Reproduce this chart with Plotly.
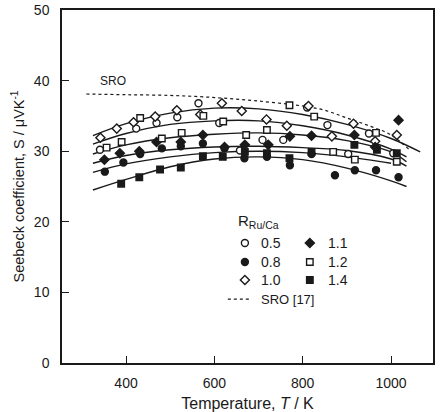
import plotly.graph_objects as go

# ---------------- data ----------------
T_05 = [341, 423, 469, 516, 564, 611, 658, 709, 756, 810, 856, 903, 950, 1005]
S_05 = [30.2, 33.2, 34.0, 34.8, 36.8, 34.0, 30.1, 31.6, 31.6, 36.2, 33.7, 29.6, 32.5, 29.7]

T_08 = [352, 394, 432, 481, 524, 574, 623, 668, 719, 771, 820, 873, 918, 966, 1017]
S_08 = [27.1, 28.4, 29.6, 30.4, 30.7, 31.1, 30.4, 29.0, 29.2, 28.0, 29.6, 26.6, 27.3, 27.3, 26.3]

T_10 = [342, 379, 417, 466, 515, 568, 617, 662, 718, 764, 813, 866, 915, 964, 1013]
S_10 = [31.9, 33.2, 34.1, 34.9, 35.8, 35.2, 36.8, 35.7, 34.5, 33.6, 36.4, 32.1, 33.9, 31.4, 32.3]

T_11 = [351, 386, 430, 469, 524, 574, 623, 669, 722, 771, 820, 917, 964, 1017]
S_11 = [28.8, 29.7, 30.0, 31.3, 31.3, 32.3, 30.6, 30.9, 30.9, 32.1, 32.2, 32.3, 30.6, 34.4]

T_12 = [356, 390, 432, 481, 526, 575, 620, 672, 719, 770, 826, 869, 918, 966, 1013]
S_12 = [30.5, 31.3, 34.7, 31.8, 32.6, 35.0, 34.2, 32.3, 33.0, 36.5, 34.9, 29.9, 28.8, 32.6, 28.5]

T_14 = [389, 430, 477, 524, 574, 619, 669, 719, 770, 820, 917, 968, 1013]
S_14 = [25.4, 26.3, 27.4, 27.7, 29.3, 29.2, 29.9, 29.7, 29.0, 29.9, 30.9, 30.2, 29.7]

# fitted curves
FIT1_T = [325, 400, 500, 600, 700, 800, 900, 1000, 1066]
FIT1_S = [32.2, 33.9, 35.4, 36.1, 36.0, 35.2, 33.8, 31.8, 29.9]
FIT2_T = [325, 400, 500, 600, 700, 800, 900, 1000, 1035]
FIT2_S = [31.0, 32.5, 33.8, 34.3, 34.3, 33.6, 32.3, 30.3, 29.2]
FIT3_T = [325, 400, 500, 600, 700, 800, 900, 1000, 1035]
FIT3_S = [29.6, 30.9, 31.9, 32.4, 32.6, 32.3, 31.5, 29.9, 28.5]
FIT4_T = [325, 400, 500, 600, 700, 800, 900, 1000, 1035]
FIT4_S = [28.3, 29.4, 30.2, 30.6, 30.7, 30.5, 30.1, 28.9, 27.9]
FIT5_T = [325, 400, 500, 600, 700, 800, 900, 1000]
FIT5_S = [27.0, 28.2, 29.2, 29.8, 30.0, 29.8, 29.2, 28.3]
FIT6_T = [325, 400, 500, 600, 700, 800, 900, 1000, 1035]
FIT6_S = [24.5, 26.0, 27.8, 28.9, 29.2, 28.8, 27.6, 25.8, 25.0]

SRO_T = [310, 400, 500, 600, 700, 800, 850, 900, 950, 1000, 1045]
SRO_S = [38.1, 38.0, 37.9, 37.6, 37.1, 36.4, 35.8, 34.7, 33.6, 32.3, 30.0]

LEGEND_LABELS = ["0.5", "0.8", "1.0", "1.1", "1.2", "1.4"]

# ---------------- figure ----------------
INK = "#1a1a1a"
FONT = "Arial, Liberation Sans, sans-serif"

fig = go.Figure()

for tx, sy in [(FIT1_T, FIT1_S), (FIT2_T, FIT2_S), (FIT3_T, FIT3_S),
               (FIT4_T, FIT4_S), (FIT5_T, FIT5_S), (FIT6_T, FIT6_S)]:
    fig.add_trace(go.Scatter(x=tx, y=sy, mode="lines", showlegend=False, hoverinfo="skip",
                             line=dict(color=INK, width=1.4, shape="spline", smoothing=1.0)))

fig.add_trace(go.Scatter(x=SRO_T, y=SRO_S, mode="lines", showlegend=False,
                         line=dict(color=INK, width=1.2, dash="3px,3px", shape="spline")))

series = [
    (T_05, S_05, "circle", "white", 7),
    (T_08, S_08, "circle", INK, 7),
    (T_10, S_10, "diamond", "white", 7),
    (T_11, S_11, "diamond", INK, 7),
    (T_12, S_12, "square", "white", 6.5),
    (T_14, S_14, "square", INK, 6.5),
]
for (tx, sy, sym, fill, size), name in zip(series, LEGEND_LABELS):
    fig.add_trace(go.Scatter(x=tx, y=sy, mode="markers", name=name, showlegend=False,
                             marker=dict(symbol=sym, size=size, color=fill,
                                         line=dict(color=INK, width=1.4))))

# ---- legend drawn in plot-fraction coordinates ----
col_mx = [0.493, 0.668]
col_tx = [0.530, 0.712]
rows_y = [0.340, 0.286, 0.235]
for i, ((tx, sy, sym, fill, size), name) in enumerate(zip(series, LEGEND_LABELS)):
    c, r = divmod(i, 3)
    fig.add_trace(go.Scatter(x=[col_mx[c]], y=[rows_y[r]], xaxis="x2", yaxis="y2",
                             mode="markers", showlegend=False, hoverinfo="skip",
                             marker=dict(symbol=sym, size=size, color=fill,
                                         line=dict(color=INK, width=1.4))))
    fig.add_annotation(x=col_tx[c], y=rows_y[r], xref="x2", yref="y2", text=name,
                       showarrow=False, xanchor="left", yanchor="middle",
                       font=dict(family=FONT, size=14, color=INK))
fig.add_trace(go.Scatter(x=[0.447, 0.505], y=[0.181, 0.181], xaxis="x2", yaxis="y2",
                         mode="lines", showlegend=False, hoverinfo="skip",
                         line=dict(color=INK, width=1.2, dash="3px,3px")))
fig.add_annotation(x=col_tx[0], y=0.181, xref="x2", yref="y2", text="SRO [17]",
                   showarrow=False, xanchor="left", yanchor="middle",
                   font=dict(family=FONT, size=13, color=INK))
fig.add_annotation(x=0.47, y=0.40, xref="x2", yref="y2", text="R<sub>Ru/Ca</sub>",
                   showarrow=False, xanchor="left", yanchor="middle",
                   font=dict(family=FONT, size=15, color=INK))
fig.add_annotation(x=370, y=39.9, text="SRO", showarrow=False,
                   font=dict(family=FONT, size=12, color=INK))

axis_common = dict(showline=True, linecolor=INK, linewidth=1.5, mirror=True,
                   ticks="inside", ticklen=7, tickwidth=1.2, tickcolor=INK,
                   showgrid=False, zeroline=False, automargin=False,
                   tickfont=dict(family=FONT, size=14, color=INK))

fig.update_layout(
    width=442, height=412,
    margin=dict(l=62, r=9, t=10, b=49),
    paper_bgcolor="white", plot_bgcolor="white",
    showlegend=False,
    xaxis=dict(range=[255, 1095], tickvals=[400, 600, 800, 1000], ticklabelstandoff=6,
               title=dict(text="Temperature, <i>T</i> / K", standoff=9,
                          font=dict(family=FONT, size=16, color=INK)),
               **axis_common),
    yaxis=dict(range=[0, 50], tickvals=[0, 10, 20, 30, 40, 50], ticklabelstandoff=8,
               title=dict(text="Seebeck coefficient, S / μVK<sup>-1</sup>", standoff=6,
                          font=dict(family=FONT, size=14.5, color=INK)),
               **axis_common),
    xaxis2=dict(domain=[0, 1], range=[0, 1], overlaying="x", visible=False, fixedrange=True),
    yaxis2=dict(domain=[0, 1], range=[0, 1], overlaying="y", visible=False, fixedrange=True),
)

fig.write_html("out.html")
